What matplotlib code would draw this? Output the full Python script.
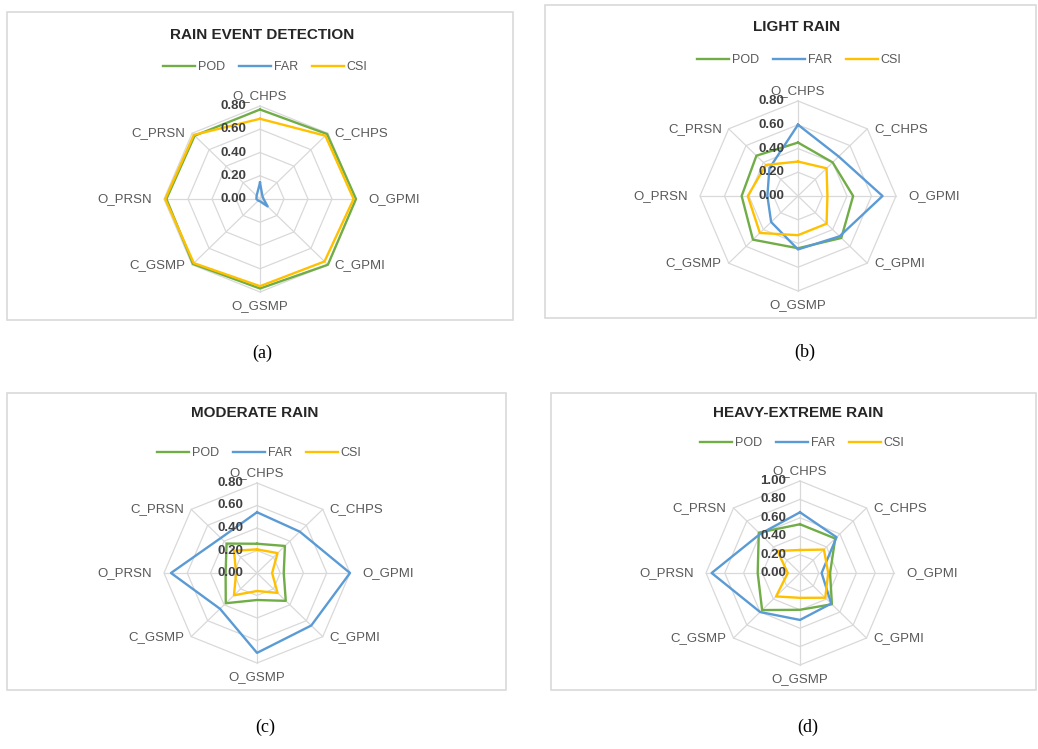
import numpy as np
import matplotlib
matplotlib.use("Agg")
import matplotlib.pyplot as plt
from matplotlib.patches import Rectangle

plt.rcParams["font.family"] = ["Liberation Sans", "DejaVu Sans"]

# ---- data -------------------------------------------------------------
categories = ["O_CHPS", "C_CHPS", "O_GPMI", "C_GPMI",
              "O_GSMP", "C_GSMP", "O_PRSN", "C_PRSN"]
metrics = ["POD", "FAR", "CSI"]

titles = ["RAIN EVENT DETECTION", "LIGHT RAIN", "MODERATE RAIN", "HEAVY-EXTREME RAIN"]
captions = ["(a)", "(b)", "(c)", "(d)"]

ticks_08 = [0.00, 0.20, 0.40, 0.60, 0.80]
ticks_10 = [0.00, 0.20, 0.40, 0.60, 0.80, 1.00]

pod_event = [0.77, 0.79, 0.80, 0.80, 0.77, 0.79, 0.78, 0.77]
far_event = [0.14, 0.03, 0.03, 0.09, 0.02, 0.02, 0.03, 0.04]
csi_event = [0.69, 0.77, 0.78, 0.76, 0.75, 0.78, 0.79, 0.78]

pod_light = [0.45, 0.40, 0.45, 0.50, 0.44, 0.52, 0.46, 0.48]
far_light = [0.60, 0.47, 0.69, 0.48, 0.45, 0.31, 0.25, 0.33]
csi_light = [0.29, 0.33, 0.24, 0.33, 0.33, 0.44, 0.41, 0.37]

pod_moderate = [0.26, 0.34, 0.23, 0.35, 0.24, 0.38, 0.27, 0.37]
far_moderate = [0.54, 0.52, 0.80, 0.66, 0.71, 0.45, 0.74, 0.44]
csi_moderate = [0.21, 0.25, 0.13, 0.25, 0.16, 0.28, 0.18, 0.28]

pod_heavy = [0.53, 0.53, 0.32, 0.48, 0.40, 0.57, 0.45, 0.62]
far_heavy = [0.66, 0.55, 0.23, 0.47, 0.51, 0.60, 0.94, 0.60]
csi_heavy = [0.25, 0.36, 0.30, 0.38, 0.27, 0.36, 0.13, 0.34]

series_sets = [
    (pod_event, far_event, csi_event),
    (pod_light, far_light, csi_light),
    (pod_moderate, far_moderate, csi_moderate),
    (pod_heavy, far_heavy, csi_heavy),
]
tick_sets = [ticks_08, ticks_08, ticks_08, ticks_10]

colors = {"POD": "#70AD47", "FAR": "#5B9BD5", "CSI": "#FFC000"}
grid_color = "#D9D9D9"
label_color = "#595959"

# ---- layout (pixels, origin top-left) ---------------------------------
W, H = 1038, 749
frames = [(7, 12, 513, 320), (545, 5, 1036, 318),
          (7, 393, 506, 690), (551, 393, 1036, 690)]
centers = [(260, 199), (798, 196), (257, 573), (800, 573)]
radii = [(96, 93), (98, 95), (93, 90), (94, 92)]
title_pos = [(262, 35), (797, 27), (255, 413), (798, 413)]
legend_pos = [(265, 67), (799, 60), (259, 453), (802, 443)]
caption_pos = [(262, 353), (805, 352), (265, 727), (808, 727)]


def fx(x):
    return x / W


def fy(y):
    return 1 - y / H


fig = plt.figure(figsize=(W / 100, H / 100), dpi=100)
fig.patch.set_facecolor("white")

n = len(categories)
theta = np.linspace(0, 2 * np.pi, n, endpoint=False)
theta_closed = np.append(theta, theta[0])

for i in range(4):
    x0, y0, x1, y1 = frames[i]
    fig.add_artist(Rectangle((fx(x0), fy(y1)), fx(x1) - fx(x0), fy(y0) - fy(y1),
                             transform=fig.transFigure, facecolor="white",
                             edgecolor=grid_color, linewidth=1.2, zorder=0))

    cx, cy = centers[i]
    rx, ry = radii[i]
    ax = fig.add_axes([fx(cx - rx), fy(cy + ry), 2 * rx / W, 2 * ry / H],
                      projection="polar")
    ax.set_aspect("auto")
    ax.set_theta_zero_location("N")
    ax.set_theta_direction(-1)
    ticks = tick_sets[i]
    rmax = ticks[-1]
    ax.set_ylim(0, rmax)
    ax.grid(False)
    ax.set_xticks([])
    ax.set_yticks([])
    ax.spines["polar"].set_visible(False)
    ax.patch.set_alpha(0)

    # octagonal rings and spokes
    for t in ticks[1:]:
        ax.plot(theta_closed, [t] * (n + 1), color=grid_color, lw=0.9,
                clip_on=False, zorder=1)
    for th in theta:
        ax.plot([th, th], [0, rmax], color=grid_color, lw=0.9,
                clip_on=False, zorder=1)

    # data series
    handles = []
    for name, vals in zip(metrics, series_sets[i]):
        v = list(vals) + [vals[0]]
        (ln,) = ax.plot(theta_closed, v, color=colors[name], lw=1.7,
                        clip_on=False, zorder=3, label=name)
        handles.append(ln)

    # radial tick labels
    for t in ticks:
        ax.annotate(f"{t:.2f}", xy=(0, t), xytext=(-10, 0),
                    textcoords="offset points", ha="right", va="center",
                    fontsize=9.5, fontweight="bold", color="#404040",
                    annotation_clip=False, zorder=4)

    # category labels
    for th, cat in zip(theta, categories):
        s, c = np.sin(th), np.cos(th)
        if abs(s) < 1e-6:
            ha = "center"
            off = (0, 3 if c > 0 else -6)
            va = "bottom" if c > 0 else "top"
        elif abs(c) < 1e-6:
            ha = "left" if s > 0 else "right"
            off = (9 if s > 0 else -9, 0)
            va = "center"
        else:
            ha = "left" if s > 0 else "right"
            off = (5 if s > 0 else -5, 0)
            va = "center"
        ax.annotate(cat, xy=(th, rmax), xytext=off, textcoords="offset points",
                    ha=ha, va=va, fontsize=9.5, color=label_color,
                    annotation_clip=False)

    tx, ty = title_pos[i]
    fig.text(fx(tx), fy(ty), titles[i], ha="center", va="center",
             fontsize=11, fontweight="bold", color="#262626")

    lx, ly = legend_pos[i]
    leg = ax.legend(handles=handles, loc="center",
                    bbox_to_anchor=(fx(lx), fy(ly)),
                    bbox_transform=fig.transFigure, ncol=3, frameon=False,
                    fontsize=9, handlelength=2.6, handletextpad=0.2,
                    columnspacing=1.1, borderpad=0, borderaxespad=0)
    for txt in leg.get_texts():
        txt.set_color(label_color)

    px, py = caption_pos[i]
    fig.text(fx(px), fy(py), captions[i], ha="center", va="center",
             fontsize=13, family="Liberation Serif", color="black")

fig.savefig("out.png", dpi=100, facecolor="white")
